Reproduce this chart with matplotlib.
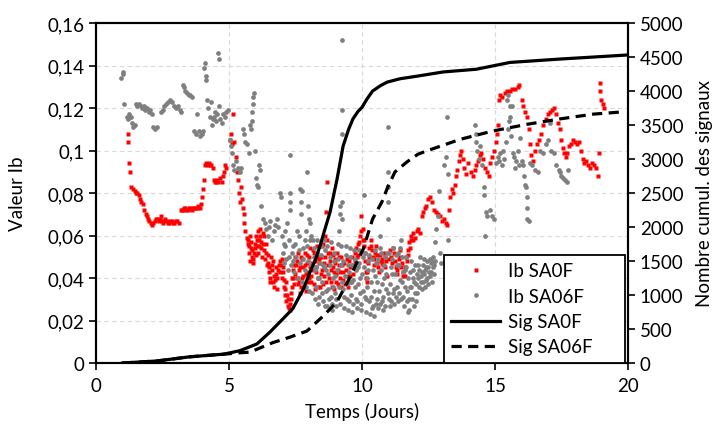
import numpy as np
import matplotlib
matplotlib.use("Agg")
from matplotlib import pyplot as plt
from matplotlib.lines import Line2D
from matplotlib.ticker import FuncFormatter

plt.rcParams['font.family'] = ['Lato', 'DejaVu Sans']

# Ib SA0F (rouge) : (temps en jours, valeur Ib)
ib_sa0f = [
    (1.20, 0.108), (1.22, 0.104), (1.25, 0.094), (1.28, 0.090), (1.33, 0.083), (1.40, 0.082),
    (1.45, 0.081), (1.50, 0.080), (1.55, 0.080), (1.60, 0.079), (1.65, 0.077), (1.70, 0.076),
    (1.77, 0.075), (1.82, 0.072), (1.88, 0.070), (1.92, 0.069), (1.95, 0.068), (2.00, 0.067),
    (2.05, 0.066), (2.10, 0.065), (2.15, 0.066), (2.20, 0.067), (2.24, 0.068), (2.28, 0.068),
    (2.35, 0.067), (2.40, 0.068), (2.44, 0.069), (2.48, 0.067), (2.52, 0.066), (2.56, 0.067),
    (2.60, 0.068), (2.68, 0.067), (2.72, 0.066), (2.75, 0.066), (2.80, 0.067), (2.85, 0.067),
    (2.90, 0.066), (2.95, 0.066), (3.00, 0.067), (3.05, 0.067), (3.12, 0.066), (3.20, 0.072),
    (3.24, 0.072), (3.28, 0.072), (3.32, 0.073), (3.36, 0.073), (3.40, 0.072), (3.45, 0.072),
    (3.50, 0.073), (3.55, 0.073), (3.60, 0.072), (3.65, 0.073), (3.70, 0.073), (3.75, 0.073),
    (3.80, 0.073), (3.85, 0.074), (3.92, 0.073), (3.96, 0.075),
    (4.00, 0.078), (4.03, 0.082), (4.06, 0.086), (4.10, 0.093), (4.15, 0.094), (4.22, 0.093),
    (4.26, 0.094), (4.30, 0.093), (4.34, 0.093), (4.38, 0.092), (4.45, 0.086), (4.48, 0.085),
    (4.52, 0.085), (4.56, 0.086), (4.60, 0.085), (4.66, 0.087), (4.72, 0.085), (4.76, 0.088),
    (4.80, 0.090), (4.84, 0.093), (4.90, 0.092),
    (5.02, 0.105), (5.06, 0.108), (5.10, 0.103), (5.15, 0.117), (5.20, 0.104), (5.25, 0.097),
    (5.30, 0.090), (5.35, 0.086), (5.38, 0.080), (5.40, 0.076), (5.45, 0.083), (5.50, 0.077),
    (5.53, 0.073), (5.55, 0.070), (5.58, 0.066), (5.62, 0.062), (5.66, 0.059), (5.70, 0.056),
    (5.75, 0.052), (5.78, 0.048), (5.80, 0.060), (5.83, 0.054), (5.86, 0.050), (5.90, 0.047),
    (5.94, 0.052), (5.98, 0.056), (6.02, 0.051), (6.05, 0.058), (6.10, 0.062), (6.14, 0.055),
    (6.18, 0.060), (6.22, 0.057), (6.26, 0.061), (6.30, 0.053), (6.35, 0.049), (6.40, 0.056),
    (6.45, 0.047), (6.50, 0.043), (6.55, 0.040), (6.58, 0.050), (6.62, 0.046), (6.66, 0.038),
    (6.70, 0.036), (6.75, 0.042), (6.80, 0.035), (6.85, 0.044), (6.90, 0.048), (6.95, 0.046),
    (7.00, 0.040), (7.04, 0.043), (7.08, 0.036), (7.12, 0.032), (7.16, 0.029), (7.20, 0.027),
    (7.25, 0.026), (7.30, 0.025), (7.34, 0.030), (7.38, 0.036), (7.42, 0.040), (7.45, 0.046),
    (7.50, 0.042), (7.55, 0.048), (7.58, 0.037), (7.62, 0.044), (7.66, 0.033), (7.70, 0.050),
    (7.74, 0.040), (7.78, 0.045), (7.82, 0.036), (7.86, 0.052), (7.90, 0.042), (7.94, 0.047),
    (7.98, 0.038), (8.02, 0.050), (8.06, 0.045), (8.10, 0.041), (8.14, 0.053), (8.18, 0.037),
    (8.22, 0.048), (8.26, 0.043), (8.30, 0.055), (8.34, 0.040), (8.38, 0.047), (8.42, 0.036),
    (8.46, 0.050), (8.50, 0.044), (8.54, 0.056), (8.58, 0.041), (8.62, 0.060), (8.66, 0.071),
    (8.68, 0.085), (8.70, 0.058), (8.74, 0.046), (8.78, 0.052), (8.82, 0.038), (8.86, 0.054),
    (8.90, 0.045), (8.94, 0.035), (8.98, 0.049), (9.02, 0.042), (9.06, 0.052), (9.10, 0.037),
    (9.14, 0.046), (9.18, 0.043), (9.22, 0.050), (9.28, 0.039), (9.34, 0.047), (9.40, 0.044),
    (9.46, 0.036), (9.50, 0.048), (9.56, 0.041), (9.62, 0.050), (9.68, 0.046), (9.75, 0.052),
    (9.80, 0.050), (9.86, 0.056), (9.92, 0.060), (9.98, 0.069), (10.02, 0.063), (10.06, 0.058),
    (10.10, 0.052), (10.14, 0.043), (10.18, 0.038), (10.22, 0.047), (10.28, 0.054), (10.34, 0.058),
    (10.40, 0.050), (10.46, 0.046), (10.52, 0.055), (10.58, 0.051), (10.64, 0.043), (10.70, 0.048),
    (10.76, 0.047), (10.82, 0.052), (10.88, 0.045), (10.95, 0.041), (11.00, 0.049), (11.06, 0.053),
    (11.12, 0.047), (11.20, 0.052), (11.26, 0.045), (11.32, 0.042), (11.38, 0.049), (11.44, 0.053),
    (11.50, 0.047), (11.56, 0.043), (11.62, 0.041), (11.68, 0.048), (11.74, 0.053), (11.80, 0.054),
    (11.86, 0.058), (11.92, 0.061), (11.98, 0.059), (12.05, 0.062), (12.12, 0.063), (12.18, 0.061),
    (12.24, 0.069), (12.30, 0.071), (12.36, 0.073), (12.42, 0.074), (12.48, 0.077), (12.55, 0.078),
    (12.62, 0.076), (12.70, 0.072), (12.78, 0.071), (12.86, 0.070), (12.94, 0.069), (13.00, 0.067),
    (13.08, 0.068), (13.14, 0.066), (13.20, 0.065), (13.26, 0.072), (13.32, 0.078), (13.38, 0.082),
    (13.42, 0.080), (13.48, 0.084), (13.54, 0.088), (13.58, 0.091), (13.63, 0.095), (13.68, 0.098),
    (13.72, 0.100), (13.78, 0.096), (13.85, 0.092), (13.92, 0.089), (14.00, 0.094), (14.08, 0.090),
    (14.16, 0.088), (14.24, 0.091), (14.30, 0.093), (14.36, 0.095), (14.42, 0.098), (14.48, 0.099),
    (14.55, 0.096), (14.62, 0.092), (14.70, 0.090), (14.76, 0.088), (14.82, 0.094), (14.88, 0.097),
    (14.95, 0.100), (15.02, 0.104), (15.06, 0.108), (15.10, 0.112), (15.15, 0.124), (15.20, 0.126),
    (15.28, 0.125), (15.36, 0.127), (15.45, 0.128), (15.55, 0.128), (15.65, 0.129), (15.75, 0.129),
    (15.85, 0.130), (15.92, 0.131), (16.00, 0.124), (16.05, 0.121), (16.12, 0.118), (16.20, 0.116),
    (16.26, 0.110), (16.30, 0.103), (16.36, 0.098), (16.42, 0.095), (16.50, 0.100), (16.58, 0.103),
    (16.66, 0.105), (16.74, 0.108), (16.82, 0.112), (16.90, 0.115), (16.98, 0.117), (17.06, 0.118),
    (17.14, 0.119), (17.22, 0.120), (17.30, 0.117), (17.38, 0.113), (17.45, 0.110), (17.50, 0.105),
    (17.55, 0.101), (17.60, 0.099), (17.66, 0.097), (17.72, 0.099), (17.78, 0.102), (17.84, 0.103),
    (17.92, 0.105), (18.00, 0.104), (18.08, 0.103), (18.16, 0.104), (18.24, 0.100), (18.30, 0.096),
    (18.36, 0.094), (18.42, 0.095), (18.50, 0.093), (18.58, 0.092), (18.66, 0.094), (18.74, 0.093),
    (18.80, 0.092), (18.86, 0.088), (18.90, 0.099), (18.93, 0.132), (18.96, 0.128), (19.00, 0.124),
    (19.05, 0.122), (19.10, 0.120),
    # bande dense 5,7 - 12 jours
    (5.72, 0.058), (5.76, 0.055), (5.82, 0.057), (5.88, 0.053), (5.92, 0.049), (5.96, 0.054),
    (6.00, 0.060), (6.04, 0.055), (6.08, 0.052), (6.12, 0.058), (6.16, 0.063), (6.20, 0.054),
    (6.24, 0.050), (6.28, 0.056), (6.32, 0.060), (6.38, 0.052), (6.42, 0.046), (6.48, 0.051),
    (6.52, 0.045), (6.56, 0.038), (6.60, 0.044), (6.64, 0.048), (6.68, 0.041), (6.72, 0.039),
    (6.78, 0.045), (6.82, 0.040), (6.88, 0.046), (6.92, 0.043), (6.98, 0.049), (7.02, 0.045),
    (7.06, 0.039), (7.10, 0.035), (7.14, 0.038), (7.18, 0.032), (7.22, 0.030), (7.28, 0.028),
    (7.32, 0.033), (7.36, 0.040), (7.40, 0.044), (7.44, 0.037), (7.48, 0.050), (7.52, 0.046),
    (7.56, 0.040), (7.60, 0.052), (7.64, 0.038), (7.68, 0.045), (7.72, 0.036), (7.76, 0.049),
    (7.80, 0.041), (7.84, 0.046), (7.88, 0.034), (7.92, 0.051), (7.96, 0.043), (8.00, 0.040),
    (8.04, 0.054), (8.08, 0.038), (8.12, 0.047), (8.16, 0.044), (8.20, 0.052), (8.24, 0.035),
    (8.28, 0.045), (8.32, 0.050), (8.36, 0.036), (8.40, 0.049), (8.44, 0.042), (8.48, 0.055),
    (8.52, 0.037), (8.56, 0.047), (8.60, 0.050), (8.64, 0.038), (8.72, 0.052), (8.76, 0.040),
    (8.80, 0.048), (8.84, 0.044), (8.88, 0.036), (8.92, 0.051), (8.96, 0.043), (9.00, 0.047),
    (9.04, 0.038), (9.08, 0.044), (9.12, 0.050), (9.16, 0.040), (9.20, 0.036), (9.24, 0.046),
    (9.30, 0.043), (9.36, 0.037), (9.42, 0.049), (9.48, 0.041), (9.54, 0.045), (9.60, 0.038),
    (9.66, 0.042), (9.72, 0.048), (9.78, 0.054), (9.84, 0.051), (9.90, 0.057), (9.96, 0.062),
    (10.04, 0.058), (10.08, 0.055), (10.12, 0.048), (10.16, 0.040), (10.20, 0.043), (10.26, 0.050),
    (10.32, 0.055), (10.38, 0.053), (10.44, 0.049), (10.50, 0.052), (10.56, 0.047), (10.62, 0.045),
    (10.68, 0.051), (10.74, 0.049), (10.80, 0.046), (10.86, 0.050), (10.92, 0.048), (11.10, 0.050),
    (11.16, 0.054), (11.24, 0.048), (11.30, 0.044), (11.36, 0.046), (11.42, 0.050), (11.48, 0.045),
    (11.54, 0.041), (11.60, 0.045), (11.66, 0.050), (11.72, 0.051), (11.78, 0.057), (11.84, 0.060),
    (11.90, 0.058),
]

# Ib SA06F (gris)
ib_sa06f = [
    (0.95, 0.134), (1.00, 0.136), (1.03, 0.137), (1.06, 0.122), (1.15, 0.116), (1.20, 0.115),
    (1.25, 0.117), (1.30, 0.116), (1.35, 0.113), (1.40, 0.111), (1.45, 0.112), (1.50, 0.122),
    (1.56, 0.121), (1.62, 0.122), (1.68, 0.121), (1.74, 0.120), (1.80, 0.121), (1.86, 0.119),
    (1.92, 0.120), (1.98, 0.118), (2.04, 0.119), (2.10, 0.117), (2.16, 0.111), (2.22, 0.110),
    (2.28, 0.111), (2.44, 0.118), (2.50, 0.119), (2.56, 0.121), (2.62, 0.122), (2.70, 0.123),
    (2.78, 0.124), (2.84, 0.123), (2.92, 0.121), (3.00, 0.120), (3.08, 0.121), (3.15, 0.119),
    (3.20, 0.118), (3.26, 0.131), (3.30, 0.130), (3.36, 0.128), (3.42, 0.127), (3.48, 0.126),
    (3.55, 0.126), (3.62, 0.125), (3.70, 0.109), (3.75, 0.108), (3.80, 0.117), (3.86, 0.109),
    (3.92, 0.107), (3.98, 0.108), (4.02, 0.109), (4.05, 0.139), (4.08, 0.141), (4.12, 0.135),
    (4.15, 0.133), (4.18, 0.124), (4.22, 0.120), (4.28, 0.116), (4.32, 0.123), (4.36, 0.112),
    (4.40, 0.115), (4.44, 0.116), (4.48, 0.118), (4.52, 0.114), (4.56, 0.117), (4.59, 0.146),
    (4.61, 0.143), (4.63, 0.121), (4.68, 0.115), (4.72, 0.113), (4.78, 0.117), (4.84, 0.116),
    (4.90, 0.118), (4.96, 0.119),
    (5.02, 0.105), (5.06, 0.102), (5.10, 0.099), (5.15, 0.093), (5.20, 0.091), (5.28, 0.095),
    (5.34, 0.092), (5.40, 0.090), (5.46, 0.092), (5.52, 0.110), (5.56, 0.108), (5.62, 0.104),
    (5.68, 0.103), (5.74, 0.099), (5.78, 0.112), (5.82, 0.110), (5.86, 0.114), (5.88, 0.118),
    (5.90, 0.122), (5.92, 0.125), (5.94, 0.127), (5.96, 0.100), (6.00, 0.087), (6.04, 0.084),
    (6.08, 0.083), (6.14, 0.093), (6.18, 0.091), (6.22, 0.074), (6.28, 0.068), (6.34, 0.066),
    (6.40, 0.063), (6.46, 0.060), (6.50, 0.064), (6.56, 0.067), (6.62, 0.058), (6.68, 0.062),
    (6.74, 0.065), (6.80, 0.068), (6.86, 0.064), (6.92, 0.080), (6.95, 0.078), (7.00, 0.060),
    (7.06, 0.056), (7.12, 0.062), (7.18, 0.066), (7.24, 0.058), (7.28, 0.098), (7.29, 0.080),
    (7.30, 0.076), (7.31, 0.072), (7.36, 0.052), (7.42, 0.048), (7.50, 0.056), (7.56, 0.062),
    (7.62, 0.060), (7.67, 0.082), (7.70, 0.076), (7.72, 0.070), (7.75, 0.081), (7.80, 0.054),
    (7.85, 0.058), (7.90, 0.062), (7.95, 0.090), (7.97, 0.074), (7.99, 0.068), (8.05, 0.066),
    (8.10, 0.060), (8.16, 0.058), (8.20, 0.050), (8.22, 0.044), (8.26, 0.036), (8.30, 0.052),
    (8.34, 0.040), (8.38, 0.031), (8.42, 0.047), (8.46, 0.055), (8.50, 0.038), (8.54, 0.029),
    (8.58, 0.045), (8.62, 0.053), (8.66, 0.034), (8.70, 0.027), (8.74, 0.042), (8.78, 0.050),
    (8.82, 0.031), (8.86, 0.025), (8.90, 0.040), (8.94, 0.048), (8.98, 0.033), (9.02, 0.027),
    (9.06, 0.044), (9.10, 0.056), (9.14, 0.062), (9.17, 0.070), (9.19, 0.074), (9.22, 0.046),
    (9.25, 0.152), (9.25, 0.119), (9.25, 0.108), (9.26, 0.076), (9.26, 0.068), (9.28, 0.035),
    (9.32, 0.026), (9.36, 0.041), (9.40, 0.051), (9.44, 0.030), (9.48, 0.025), (9.52, 0.043),
    (9.56, 0.054), (9.60, 0.032), (9.64, 0.024), (9.68, 0.039), (9.72, 0.049), (9.76, 0.030),
    (9.80, 0.026), (9.84, 0.045), (9.88, 0.053), (9.92, 0.033), (9.96, 0.025), (10.00, 0.042),
    (10.04, 0.050), (10.08, 0.079), (10.10, 0.031), (10.14, 0.024), (10.18, 0.040), (10.22, 0.048),
    (10.26, 0.029), (10.30, 0.023), (10.34, 0.038), (10.38, 0.049), (10.42, 0.027), (10.46, 0.022),
    (10.50, 0.041), (10.54, 0.047), (10.58, 0.030), (10.62, 0.026), (10.66, 0.054), (10.68, 0.060),
    (10.70, 0.044), (10.74, 0.029), (10.78, 0.025), (10.82, 0.040), (10.86, 0.050), (10.90, 0.035),
    (10.94, 0.052), (10.97, 0.068), (10.98, 0.076), (10.98, 0.083), (10.98, 0.090), (10.98, 0.111),
    (11.00, 0.030), (11.04, 0.027), (11.08, 0.045), (11.12, 0.049), (11.16, 0.033), (11.20, 0.028),
    (11.24, 0.042), (11.28, 0.051), (11.32, 0.036), (11.36, 0.029), (11.40, 0.046), (11.44, 0.054),
    (11.48, 0.058), (11.52, 0.038), (11.56, 0.031), (11.60, 0.044), (11.64, 0.050), (11.68, 0.034),
    (11.72, 0.024), (11.76, 0.030), (11.80, 0.043), (11.86, 0.036), (11.92, 0.040), (11.98, 0.033),
    (12.04, 0.037), (12.10, 0.040), (12.16, 0.044), (12.22, 0.038), (12.28, 0.046), (12.34, 0.042),
    (12.40, 0.045), (12.46, 0.040), (12.52, 0.043), (12.58, 0.047), (12.64, 0.048), (12.70, 0.046),
    (12.76, 0.057), (12.80, 0.063), (12.84, 0.069), (12.88, 0.081), (12.92, 0.052), (12.96, 0.047),
    (13.10, 0.093), (13.15, 0.097), (13.20, 0.116), (13.22, 0.058), (13.25, 0.089),
    (14.25, 0.112), (14.28, 0.108), (14.30, 0.104), (14.33, 0.100), (14.38, 0.096), (14.45, 0.102),
    (14.50, 0.093), (14.58, 0.083), (14.60, 0.079), (14.62, 0.060), (14.66, 0.071), (14.70, 0.069),
    (14.80, 0.072), (14.90, 0.069), (14.95, 0.068), (15.05, 0.094), (15.10, 0.097), (15.15, 0.095),
    (15.20, 0.099), (15.25, 0.093), (15.30, 0.100), (15.35, 0.096), (15.40, 0.104), (15.45, 0.124),
    (15.48, 0.126), (15.50, 0.110), (15.53, 0.114), (15.56, 0.116), (15.58, 0.121), (15.62, 0.107),
    (15.64, 0.121), (15.66, 0.099), (15.70, 0.097), (15.75, 0.092), (15.80, 0.095), (15.85, 0.100),
    (15.90, 0.093), (15.94, 0.106), (16.00, 0.095), (16.05, 0.093), (16.10, 0.088), (16.14, 0.084),
    (16.18, 0.083), (16.20, 0.078), (16.21, 0.073), (16.22, 0.068), (16.26, 0.067), (16.30, 0.094),
    (16.40, 0.093), (16.50, 0.091), (16.60, 0.090), (16.70, 0.100), (16.80, 0.099), (16.90, 0.103),
    (17.00, 0.105), (17.07, 0.113), (17.10, 0.100), (17.20, 0.099), (17.30, 0.093), (17.40, 0.091),
    (17.45, 0.090), (17.50, 0.088), (17.55, 0.087), (17.62, 0.086), (17.70, 0.085), (17.75, 0.091),
    # bande dense 7 - 12,8 jours
    (7.02, 0.052), (7.06, 0.047), (7.10, 0.055), (7.14, 0.049), (7.20, 0.044), (7.26, 0.050),
    (7.34, 0.046), (7.40, 0.055), (7.46, 0.043), (7.52, 0.050), (7.58, 0.040), (7.64, 0.053),
    (7.68, 0.047), (7.74, 0.038), (7.78, 0.049), (7.84, 0.044), (7.88, 0.036), (7.92, 0.055),
    (7.96, 0.048), (8.00, 0.034), (8.04, 0.058), (8.08, 0.046), (8.12, 0.033), (8.18, 0.054),
    (8.24, 0.030), (8.28, 0.045), (8.32, 0.058), (8.36, 0.028), (8.40, 0.040), (8.44, 0.051),
    (8.48, 0.033), (8.52, 0.046), (8.56, 0.058), (8.60, 0.027), (8.64, 0.044), (8.68, 0.055),
    (8.72, 0.035), (8.76, 0.030), (8.80, 0.046), (8.84, 0.057), (8.88, 0.028), (8.92, 0.036),
    (8.96, 0.052), (9.00, 0.041), (9.04, 0.030), (9.08, 0.049), (9.12, 0.036), (9.16, 0.028),
    (9.20, 0.055), (9.24, 0.038), (9.30, 0.048), (9.34, 0.031), (9.38, 0.055), (9.42, 0.037),
    (9.46, 0.046), (9.50, 0.029), (9.54, 0.050), (9.58, 0.038), (9.62, 0.046), (9.66, 0.028),
    (9.70, 0.053), (9.74, 0.036), (9.78, 0.044), (9.82, 0.029), (9.86, 0.037), (9.90, 0.047),
    (9.94, 0.040), (9.98, 0.028), (10.02, 0.034), (10.06, 0.045), (10.12, 0.052), (10.16, 0.030),
    (10.20, 0.036), (10.24, 0.044), (10.28, 0.051), (10.32, 0.031), (10.36, 0.026), (10.40, 0.044),
    (10.44, 0.034), (10.48, 0.053), (10.52, 0.028), (10.56, 0.038), (10.60, 0.049), (10.64, 0.034),
    (10.68, 0.028), (10.72, 0.052), (10.76, 0.037), (10.80, 0.031), (10.84, 0.046), (10.88, 0.027),
    (10.92, 0.042), (10.96, 0.033), (11.02, 0.052), (11.06, 0.037), (11.10, 0.029), (11.14, 0.042),
    (11.18, 0.054), (11.22, 0.035), (11.26, 0.031), (11.30, 0.046), (11.34, 0.052), (11.38, 0.033),
    (11.42, 0.039), (11.46, 0.030), (11.50, 0.050), (11.54, 0.043), (11.58, 0.027), (11.62, 0.036),
    (11.66, 0.045), (11.70, 0.029), (11.74, 0.040), (11.78, 0.025), (11.82, 0.036), (11.84, 0.048),
    (11.88, 0.030), (11.90, 0.044), (11.94, 0.027), (11.96, 0.038), (12.00, 0.046), (12.02, 0.029),
    (12.06, 0.042), (12.08, 0.033), (12.12, 0.046), (12.14, 0.036), (12.18, 0.050), (12.20, 0.041),
    (12.24, 0.035), (12.26, 0.043), (12.30, 0.038), (12.32, 0.049), (12.36, 0.036), (12.38, 0.044),
    (12.42, 0.039), (12.44, 0.048), (12.48, 0.037), (12.50, 0.045), (12.54, 0.041), (12.56, 0.049),
    (12.60, 0.043), (12.62, 0.038), (12.66, 0.045), (12.68, 0.050), (12.72, 0.042), (12.74, 0.048),
]

# Nombre cumulé des signaux
sig_t_0f = [1.0, 2.3, 3.5, 4.8, 5.4, 6.05, 6.54, 7.03, 7.4, 7.8, 8.05, 8.25, 8.42, 8.6, 8.8,
            9.06, 9.29, 9.5, 9.66, 9.85, 10.0, 10.2, 10.4, 10.7, 10.94, 11.43, 12.1, 13.05,
            14.3, 15.56, 17.45, 20.0]
sig_0f = [0, 30, 90, 130, 180, 280, 455, 650, 800, 1090, 1340, 1520, 1720, 1960, 2220,
          2700, 3190, 3440, 3590, 3700, 3760, 3890, 4000, 4080, 4130, 4180, 4220, 4280,
          4320, 4420, 4470, 4530]
sig_t_06f = [1.0, 2.3, 3.5, 4.8, 5.4, 5.79, 6.65, 7.29, 7.93, 8.54, 9.06, 9.55, 10.05, 10.4,
             10.75, 10.98, 11.24, 11.7, 12.1, 12.44, 13.7, 14.9, 16.2, 17.45, 18.7, 19.7]
sig_06f = [0, 30, 90, 130, 150, 160, 300, 380, 470, 690, 900, 1260, 1680, 2120,
           2370, 2600, 2810, 2960, 3070, 3120, 3290, 3410, 3510, 3590, 3660, 3690]

r_t, r_v = np.array(ib_sa0f).T
g_t, g_v = np.array(ib_sa06f).T

fs = 13.5
fig = plt.figure(figsize=(7.22, 4.27), dpi=100)
ax = fig.add_axes([96 / 722, 1 - 364 / 427, 532 / 722, 340 / 427])
ax2 = ax.twinx()

ax.plot(r_t, r_v, ls='none', marker='s', ms=3.5, color='#ff0000', mec='none')
ax.plot(g_t, g_v, ls='none', marker='o', ms=3.4, color='#7f7f7f', mec='none')

ax2.plot(sig_t_0f, sig_0f, color='black', lw=2.3)
ax2.plot(sig_t_06f, sig_06f, color='black', lw=2.3, dashes=(3.2, 2.0))

ax.set_xlim(0, 20)
ax.set_ylim(0, 0.16)
ax2.set_ylim(0, 5000)
ax.set_xticks([0, 5, 10, 15, 20])
ax.set_yticks(np.arange(0, 0.161, 0.02))
ax2.set_yticks(np.arange(0, 5001, 500))
ax.yaxis.set_major_formatter(FuncFormatter(lambda v, p: ('%g' % round(v, 3)).replace('.', ',')))

ax.grid(True, color='#d9d9d9', ls=(0, (4, 3)), lw=0.8)
ax.set_axisbelow(True)

for a in (ax, ax2):
    for s in a.spines.values():
        s.set_linewidth(1.5)
    a.tick_params(direction='out', length=5, width=1.2, labelsize=fs, colors='black')
ax.tick_params(axis='x', pad=5)

ax.set_xlabel('Temps (Jours)', fontsize=fs, labelpad=6)
ax.set_ylabel('Valeur Ib', fontsize=fs, labelpad=15)
ax2.set_ylabel('Nombre cumul. des signaux', fontsize=fs, labelpad=9)

handles = [
    Line2D([], [], ls='none', marker='s', ms=3.5, color='#ff0000', mec='none'),
    Line2D([], [], ls='none', marker='o', ms=3.4, color='#7f7f7f', mec='none'),
    Line2D([], [], color='black', lw=2.3),
    Line2D([], [], color='black', lw=2.3, dashes=(3.2, 2.0)),
]
leg = ax2.legend(handles, ['Ib SA0F', 'Ib SA06F', 'Sig SA0F', 'Sig SA06F'],
                 loc='lower left', bbox_to_anchor=(0.654, 0.0, 0.340, 0.31), mode='expand',
                 borderaxespad=0, fontsize=13.5, fancybox=False,
                 framealpha=1, edgecolor='black', handlelength=2.6, handletextpad=0.4,
                 labelspacing=0.45, borderpad=0.4, numpoints=1)
leg.get_frame().set_linewidth(1.3)

fig.savefig('out.png', dpi=100)
